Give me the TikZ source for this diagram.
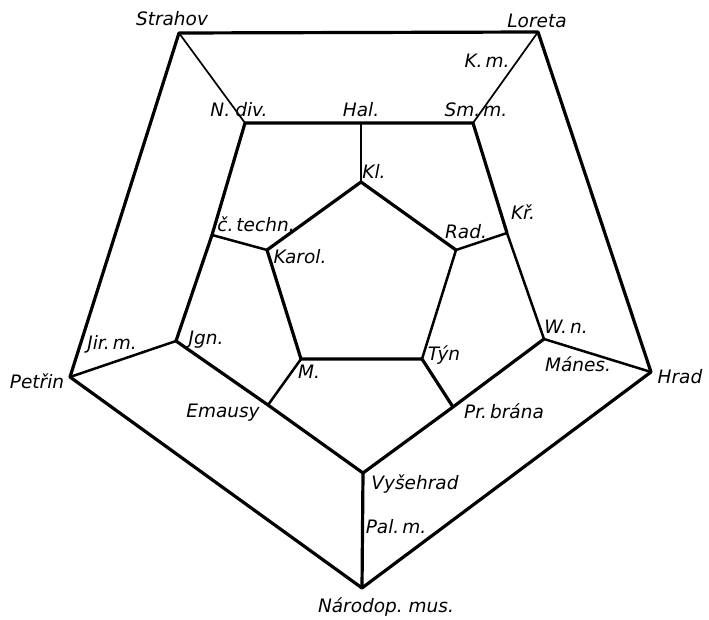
\documentclass[tikz,border=0pt]{standalone}
\usepackage{fontspec}
\setmainfont{DejaVu Sans}
\tikzset{
  edgeB/.style={line width=3.2pt, line join=round},
  edgeM/.style={line width=2.5pt, line join=round},
  edgeS/.style={line width=1.7pt, line join=round},
  lbl/.style={inner sep=0pt, font=\fontsize{18.5}{18.5}\selectfont\itshape}
}
\begin{document}
\begin{tikzpicture}[x=1pt,y=-1pt]
    \useasboundingbox (0,0) rectangle (709,620);

    % outer pentagon
    \coordinate (strahov) at (179,33);
    \coordinate (loreta) at (538,32);
    \coordinate (hrad) at (651,372);
    \coordinate (narmus) at (362,588);
    \coordinate (petrin) at (70,377);

    % middle ring
    \coordinate (ndiv) at (245,123);
    \coordinate (hal) at (361,123);
    \coordinate (smm) at (473,123);
    \coordinate (kr) at (507,233);
    \coordinate (wn) at (544,339);
    \coordinate (prbrana) at (453,407);
    \coordinate (vysehrad) at (363,473);
    \coordinate (emausy) at (268,405);
    \coordinate (jgn) at (176,341);
    \coordinate (ctechn) at (212,235);

    % inner pentagon
    \coordinate (kl) at (361,182);
    \coordinate (rad) at (456,250);
    \coordinate (tyn) at (422,359);
    \coordinate (m) at (301,359);
    \coordinate (karol) at (267,250);

    % edges
    \draw[edgeB] (strahov) -- (loreta) -- (hrad) -- (narmus) -- (petrin) -- cycle;
    \draw[edgeS] (strahov) -- (ndiv);
    \draw[edgeS] (loreta) -- (smm);
    \draw[edgeM] (hrad) -- (wn);
    \draw[edgeB] (narmus) -- (vysehrad);
    \draw[edgeM] (petrin) -- (jgn);

    \draw[edgeB] (ndiv) -- (hal) -- (smm) -- (kr);
    \draw[edgeM] (kr) -- (wn);
    \draw[edgeB] (wn) -- (prbrana) -- (vysehrad) -- (emausy) -- (jgn) -- (ctechn) -- (ndiv);

    \draw[edgeS] (hal) -- (kl);
    \draw[edgeM] (kr) -- (rad);
    \draw[edgeB] (prbrana) -- (tyn);
    \draw[edgeM] (emausy) -- (m);
    \draw[edgeM] (ctechn) -- (karol);

    \draw[edgeB] (kl) -- (rad);
    \draw[edgeM] (rad) -- (tyn);
    \draw[edgeB] (tyn) -- (m) -- (karol) -- (kl);

    % labels
    \node[lbl] (tStrahov) at (172,19) {Strahov};
    \node[lbl] (tLoreta) at (537,21) {Loreta};
    \node[lbl] (tKm) at (487,61) {K.\,m.};
    \node[lbl] (tSmm) at (476,110) {Sm.\,m.};
    \node[lbl] (tHal) at (361,110) {Hal.};
    \node[lbl] (tNdiv) at (239,110) {N.\;div.};
    \node[lbl] (tKl) at (374,171) {Kl.};
    \node[lbl] (tKr) at (523,212) {Kř.};
    \node[lbl] (tRad) at (466,232) {Rad.};
    \node[lbl] (tCtechn) at (256,224) {č.\,techn.};
    \node[lbl] (tKarol) at (300,257) {Karol.};
    \node[lbl] (tJgn) at (206,340) {Jgn.};
    \node[lbl] (tJirm) at (112,344) {Jir.\,m.};
    \node[lbl] (tPetrin) at (37,381) {Petřin};
    \node[lbl] (tEmausy) at (223,413) {Emausy};
    \node[lbl] (tM) at (309,372) {M.};
    \node[lbl] (tTyn) at (444,355) {Týn};
    \node[lbl] (tWn) at (566,327) {W.\,n.};
    \node[lbl] (tManes) at (578,364) {Mánes.};
    \node[lbl] (tHrad) at (680,377) {Hrad};
    \node[lbl] (tPrbrana) at (504,411) {Pr.\,brána};
    \node[lbl] (tVysehrad) at (415,484) {Vyšehrad};
    \node[lbl] (tPalm) at (396,527) {Pal.\,m.};
    \node[lbl] (tNarmus) at (386,607) {Národop.\ mus.};
\end{tikzpicture}
\end{document}
